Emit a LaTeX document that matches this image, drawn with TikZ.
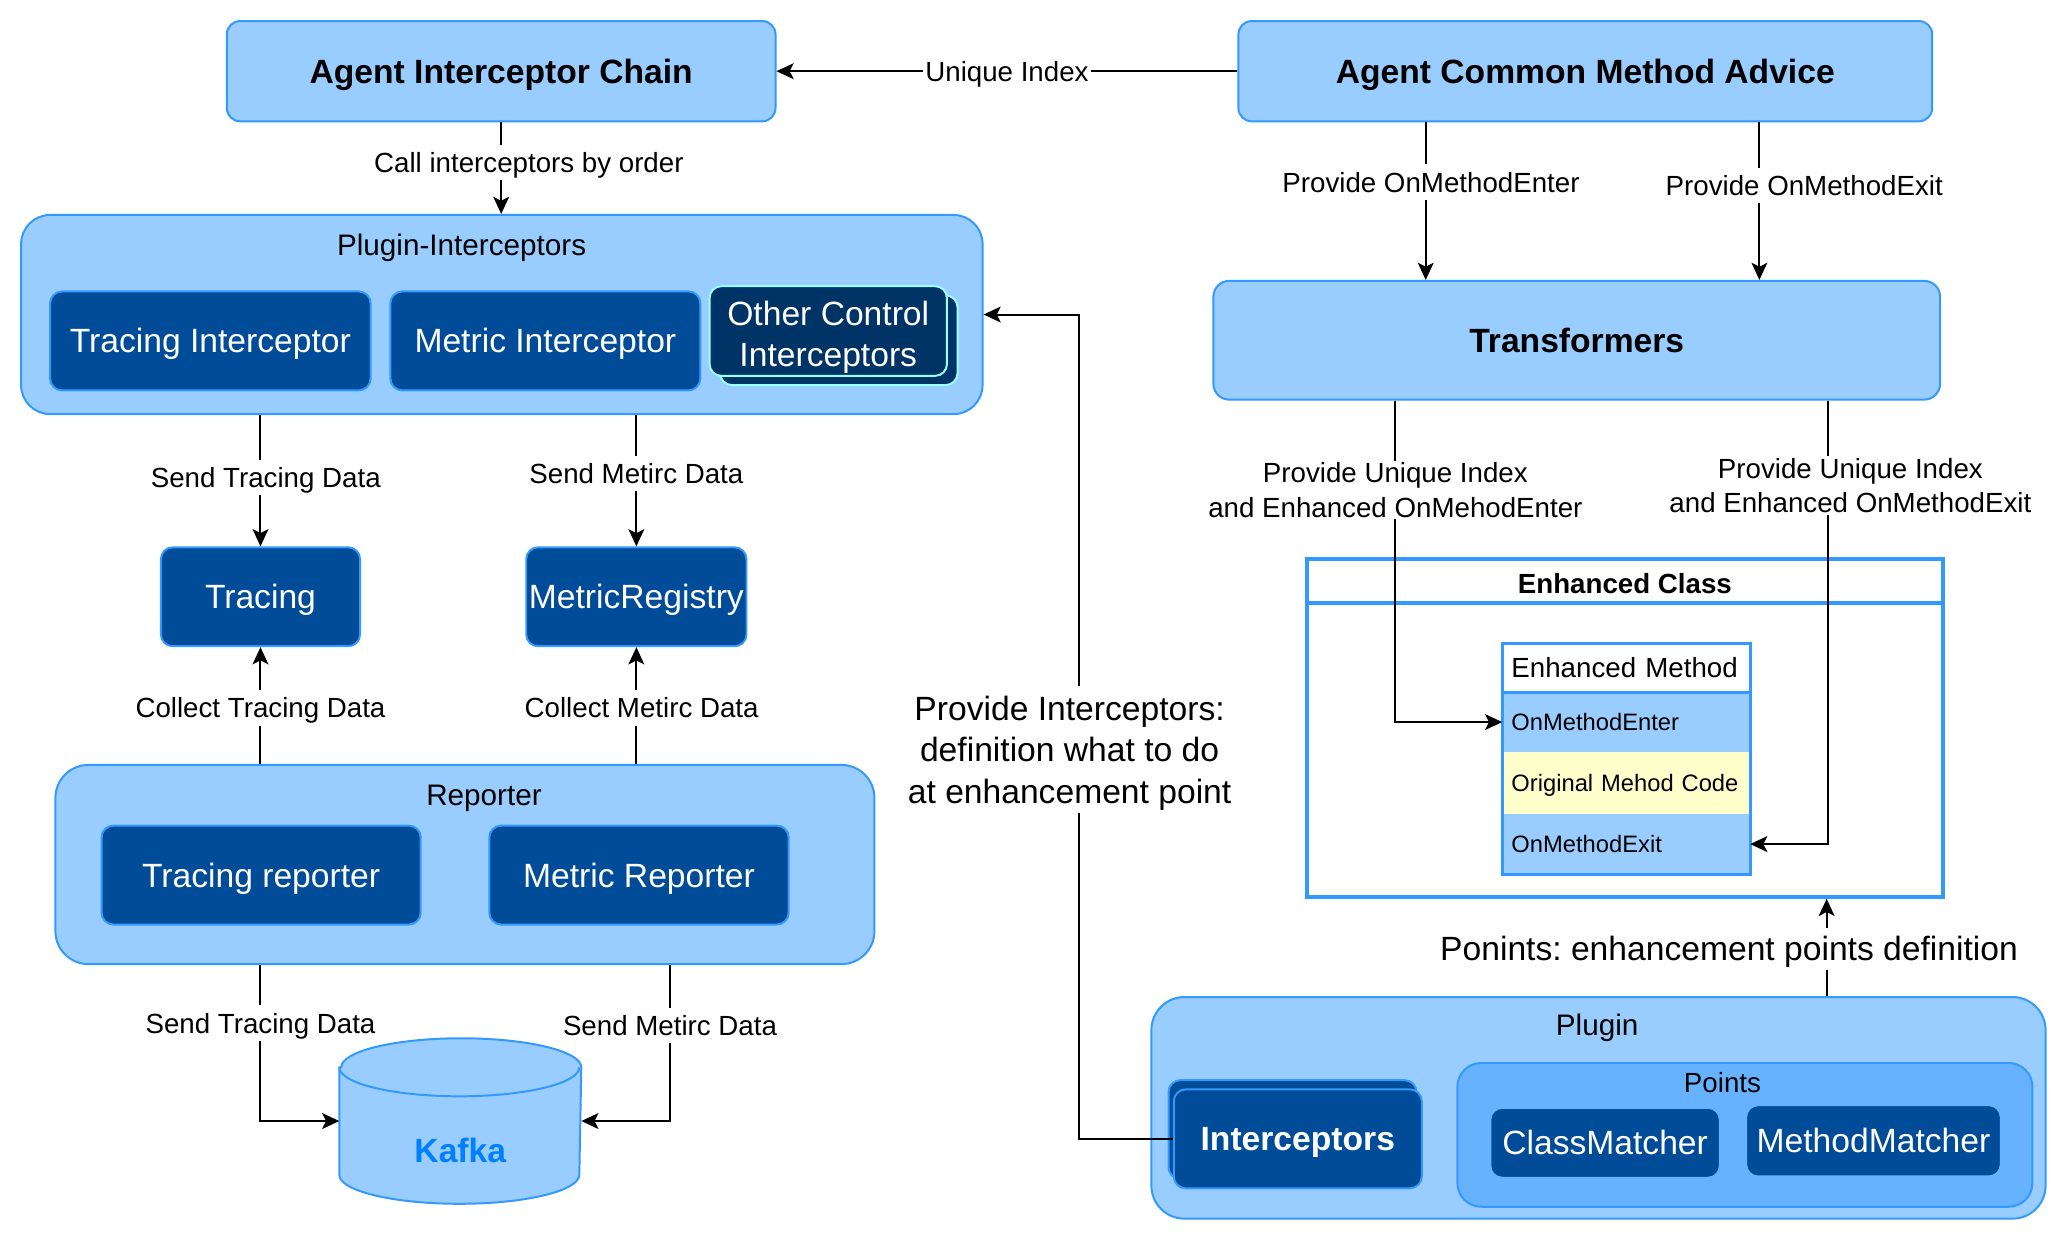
\documentclass[tikz,border=0pt]{standalone}
\usepackage{fontspec}
\setmainfont{Liberation Sans}
\usetikzlibrary{arrows.meta}
\definecolor{clight}{HTML}{99CCFF}
\definecolor{cborder}{HTML}{3399FF}
\definecolor{cdark}{HTML}{004C99}
\definecolor{cnavy}{HTML}{003366}
\definecolor{ccyan}{HTML}{99FFFF}
\definecolor{cpoints}{HTML}{66B2FF}
\definecolor{cyel}{HTML}{FFFFCC}
\definecolor{ckafka}{HTML}{007FFF}
\newcommand\ftitle{\fontsize{25.5}{31}\selectfont\bfseries}
\newcommand\fbody{\fontsize{25.5}{31.5}\selectfont}
\newcommand\fgroup{\fontsize{22.5}{27}\selectfont}
\newcommand\flabel{\fontsize{21}{26}\selectfont}
\newcommand\frow{\fontsize{18}{22}\selectfont}
\frenchspacing
\begin{document}
\begin{tikzpicture}[x=1pt, y=1pt, line width=1.5pt, >={Stealth[length=13pt,width=12pt,inset=3pt]},
main node/.style={draw=cborder, fill=clight, rounded corners=10pt, inner sep=0pt, font=\ftitle, text height=23.7pt, text depth=5.4pt},
group node/.style={draw=cborder, fill=clight, rounded corners=22pt, inner sep=0pt},
title node/.style={font=\fgroup, text height=20.9pt, text depth=4.7pt},
dark node/.style={draw=cborder, fill=cdark, text=white, rounded corners=9pt, inner sep=0pt, font=\fbody, text height=23.7pt, text depth=5.4pt},
row node/.style={inner xsep=7pt, inner ysep=0pt, outer sep=0pt, text width=174pt, align=left, font=\frow, anchor=north, text height=16.7pt, text depth=3.8pt},
lbl/.style={fill=white, inner sep=1.5pt, font=\flabel, align=center, text height=19.5pt, text depth=4.4pt},
multi line/.style={text height=, text depth=}]
\useasboundingbox (0,0) rectangle (1568,941);
\node [main node, minimum width=416, minimum height=76](chain) at (380,887) {Agent Interceptor Chain};
\node [main node, minimum width=526, minimum height=76](advice) at (1202,887) {Agent Common Method Advice};
\node [main node, rounded corners=12pt, minimum width=551, minimum height=90](trans) at (1195.5,683) {Transformers};
\node [group node, minimum width=729, minimum height=151](pi) at (380.5,702.5) {};
\node [title node](pititle) at (350,755) {Plugin-Interceptors};
\node [dark node, minimum width=243, minimum height=75](tint) at (159.5,682.5) {Tracing Interceptor};
\node [dark node, minimum width=235, minimum height=75](mint) at (413.5,682.5) {Metric Interceptor};
\node [dark node, fill=cnavy, draw=ccyan, minimum width=180, minimum height=68](ocib) at (636,683) {};
\node [dark node, fill=cnavy, draw=ccyan, minimum width=180, minimum height=68, align=center, text height=59.8pt, text depth=5.4pt](oci) at (628,690) {Other Control\\Interceptors};
\node [dark node, minimum width=151, minimum height=75](tracing) at (197.5,488.5) {Tracing};
\node [dark node, minimum width=167, minimum height=75](registry) at (482.5,488.5) {MetricRegistry};
\node [group node, rounded corners=25pt, minimum width=621, minimum height=151](reporter) at (352.5,285.5) {};
\node [title node](reptitle) at (367,338) {Reporter};
\node [dark node, minimum width=242, minimum height=75](trep) at (198,277.5) {Tracing reporter};
\node [dark node, minimum width=227, minimum height=75](mrep) at (484.5,277.5) {Metric Reporter};
\node [minimum width=182, minimum height=124, inner sep=0pt](kafka) at (349,91) {};
\draw [cborder, fill=clight] ([yshift=-22pt]kafka.north west) -- ([yshift=22pt]kafka.south west)
    arc [start angle=180, end angle=360, x radius=91, y radius=22] -- ([yshift=-22pt]kafka.north east)
    arc [start angle=0, end angle=180, x radius=91, y radius=22] -- cycle;
\draw [cborder] ([yshift=-22pt]kafka.north west) arc [start angle=180, end angle=360, x radius=91, y radius=22];
\node [font=\ftitle, text=ckafka](kafkatext) at ([yshift=-22pt]kafka.center) {Kafka};
\node [draw=cborder, line width=3pt, fill=white, minimum width=482, minimum height=256, inner sep=0pt](eclass) at (1232,389) {};
\draw [cborder, line width=3pt] (eclass.north west) ++(0,-35) -- ++(482,0);
\node [title node, font=\flabel\bfseries](ectitle) at (1232,499) {Enhanced Class};
\node [row node, fill=white, minimum height=37, font=\flabel, text height=19.5pt, text depth=4.4pt](mhead) at (1233,453) {Enhanced Method};
\node [row node, fill=clight, minimum height=45](enter) at (mhead.south) {OnMethodEnter};
\node [row node, fill=cyel, minimum height=47](orig) at (enter.south) {Original Mehod Code};
\node [row node, fill=clight, minimum height=46](exit) at (orig.south) {OnMethodExit};
\draw [cborder, line width=2.5pt] (mhead.north west) rectangle (exit.south east);
\draw [cborder, line width=2.5pt] (mhead.south west) -- (mhead.south east);
\node [group node, rounded corners=25pt, minimum width=678, minimum height=168](plugin) at (1212,101) {};
\node [title node](pltitle) at (1211,164) {Plugin};
\node [group node, fill=cpoints, rounded corners=18pt, minimum width=436, minimum height=109](points) at (1323,80.5) {};
\node [title node, font=\flabel](ptitle) at (1306,121) {Points};
\node [dark node, draw=cpoints, minimum width=174, minimum height=53](cmatch) at (1217,74.5) {ClassMatcher};
\node [dark node, draw=cpoints, minimum width=193, minimum height=54](mmatch) at (1420.5,76) {MethodMatcher};
\node [dark node, minimum width=188, minimum height=75](icpb) at (980,84.5) {};
\node [dark node, minimum width=188, minimum height=75, font=\ftitle](icp) at (984,77.5) {Interceptors};
\coordinate (bend) at (818,77.5);
\path [->]
    (advice) edge node [lbl] {Unique Index} (chain)
    (chain) edge node [lbl, pos=0.44, xshift=21pt] {Call interceptors by order} (chain |- pi.north)
    ([xshift=-121pt]advice.south) edge node [lbl, pos=0.38, xshift=4pt] {Provide OnMethodEnter} ([xshift=-121pt]advice.south |- trans.north)
    ([xshift=132pt]advice.south) edge node [lbl, pos=0.40, xshift=34pt] {Provide OnMethodExit} ([xshift=132pt]advice.south |- trans.north)
    (tracing |- pi.south) edge node [lbl, pos=0.475, xshift=4pt] {Send Tracing Data} (tracing)
    (registry |- pi.south) edge node [lbl, pos=0.445] {Send Metirc Data} (registry)
    (tracing |- reporter.north) edge node [lbl, pos=0.48] {Collect Tracing Data} (tracing)
    (registry |- reporter.north) edge node [lbl, pos=0.48, xshift=4pt] {Collect Metirc Data} (registry)
    ([xshift=173pt]plugin.north) edge node [lbl, pos=0.487, xshift=-74pt, font=\fbody, text height=23.7pt, text depth=5.4pt] {Ponints: enhancement points definition} ([xshift=173pt]plugin.north |- eclass.south)
         ;
\draw [->] (tracing |- reporter.south) |- node [lbl, pos=0.186] {Send Tracing Data} (kafka);
\draw [->] ([xshift=155.5pt]reporter.south) |- node [lbl, pos=0.194] {Send Metirc Data} (kafka);
\draw [->] ([xshift=-137.5pt]trans.south) |- node [lbl, multi line, pos=0.139] {Provide Unique Index\\and Enhanced OnMehodEnter} (enter);
\draw [->] ([xshift=190.5pt]trans.south) |- node [lbl, multi line, pos=0.096, xshift=17pt] {Provide Unique Index\\and Enhanced OnMethodExit} (exit);
\draw [->] (icp) -- (bend) |- node [lbl, pos=0.236, xshift=-7pt, font=\fbody, text height=87.4pt, text depth=6pt] {Provide Interceptors:\\definition what to do\\at enhancement point} (pi);
\end{tikzpicture}
\end{document}
